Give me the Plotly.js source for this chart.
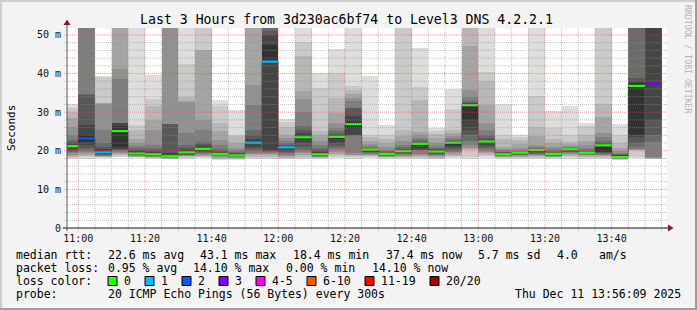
<!DOCTYPE html>
<html><head><meta charset="utf-8">
<script src="https://cdn.plot.ly/plotly-3.0.1.min.js"></script>
<style>html,body{margin:0;padding:0;background:#f3f3f3}</style>
</head><body><div id="chart" style="width:697px;height:310px"></div>
<script>
// ---- data ----
const day = '2025-12-11';
const barEnds = ['11:00','11:05','11:10','11:15','11:20','11:25','11:30','11:35','11:40','11:45','11:50','11:55',
                 '12:00','12:05','12:10','12:15','12:20','12:25','12:30','12:35','12:40','12:45','12:50','12:55',
                 '13:00','13:05','13:10','13:15','13:20','13:25','13:30','13:35','13:40','13:45','13:50','13:55'];
const medianMs = [21.2,23.2,19.6,25.1,19.3,19.1,18.6,19.6,20.5,19.2,18.8,22.1,
                  43.1,20.9,23.5,19.1,23.6,26.9,20.3,19.2,19.9,21.8,19.8,22.1,
                  31.8,22.4,19.1,19.5,20.2,19.2,20.4,19.5,21.4,18.4,36.8,37.4];
const lossCount = [0,2,1,0,0,0,0,0,0,0,0,1,
                   1,1,0,0,0,0,0,0,0,0,0,0,
                   0,0,0,0,0,0,0,0,0,0,0,3];
// 20 sorted ping RTTs (ms) per 5-minute step
const pings = [
 [17.8,18.1,18.4,18.7,19.0,19.3,19.6,20.0,20.5,21.0,21.4,21.8,22.2,22.8,24.1,26.2,28.5,30.1,31.2,32.1],
 [18.0,18.3,18.6,19.0,19.4,19.8,20.2,20.8,21.5,22.4,24.0,26.7,34.5,34.6,55.0,58.0,61.0,64.0,68.0,72.0],
 [18.2,18.3,18.4,18.5,18.6,18.7,18.8,18.9,19.1,19.3,20.0,20.5,21.0,22.0,25.4,32.2,32.3,32.4,39.2,39.3],
 [18.3,18.5,18.8,19.1,19.5,19.8,20.1,20.3,20.5,21.0,26.5,27.1,27.2,27.3,38.6,41.2,54.0,57.0,60.0,64.0],
 [18.1,18.3,18.4,18.5,18.6,18.7,18.8,18.9,19.0,19.2,19.6,19.9,20.2,20.6,21.2,22.0,23.0,25.4,26.7,56.0],
 [18.0,18.1,18.2,18.3,18.4,18.5,18.6,18.7,18.8,18.9,19.4,19.8,20.2,20.8,21.5,25.4,28.0,31.6,33.4,39.6],
 [17.8,17.9,18.0,18.05,18.1,18.2,18.3,18.4,18.5,18.6,19.0,19.5,26.9,26.95,27.0,55.0,58.0,61.0,64.0,67.0],
 [18.0,18.2,18.4,18.6,18.7,18.8,18.9,19.0,19.2,19.4,19.9,20.3,20.8,21.5,24.5,32.75,32.8,34.0,42.6,56.0],
 [18.1,18.3,18.5,18.7,18.9,19.1,19.3,19.6,19.9,20.2,20.8,21.2,21.8,22.4,25.4,28.0,46.1,46.2,55.0,58.0],
 [17.6,17.8,18.0,18.2,18.4,18.6,18.8,18.9,19.0,19.1,19.4,19.7,20.0,20.5,21.5,22.8,25.0,27.1,31.6,33.2],
 [17.7,17.9,18.0,18.1,18.2,18.3,18.4,18.5,18.6,18.7,19.0,19.2,19.5,19.8,20.2,20.8,21.9,23.9,24.1,30.6],
 [18.0,18.2,18.5,18.8,19.1,19.5,19.9,20.4,21.0,21.7,22.5,23.0,24.0,25.4,31.9,37.0,54.0,57.0,60.0,63.0],
 [18.0,18.2,18.5,18.8,19.1,19.4,19.7,20.0,20.3,42.9,47.5,50.0,51.0,55.0,58.0,61.0,64.0,67.0,70.0,74.0],
 [17.8,18.0,18.2,18.4,18.7,19.0,19.4,19.8,20.2,20.6,21.1,21.3,21.6,22.0,22.6,23.2,24.1,26.2,27.5,28.2],
 [18.0,18.2,18.5,18.9,19.3,19.8,20.3,21.0,22.0,23.0,23.9,24.5,25.5,26.4,30.0,33.3,35.4,44.6,48.3,56.0],
 [17.9,18.1,18.2,18.3,18.4,18.5,18.6,18.7,18.8,18.9,19.4,19.7,20.1,20.6,21.5,22.5,24.0,25.0,36.3,40.1],
 [18.1,18.4,18.8,19.2,19.6,20.1,20.6,21.2,22.0,23.0,23.8,24.0,24.4,25.0,26.0,27.1,29.7,33.7,40.1,46.4],
 [18.0,18.3,18.6,18.8,19.0,19.3,23.9,24.0,24.1,26.0,27.4,29.0,31.0,31.2,33.0,33.8,34.6,35.8,36.8,56.0],
 [18.1,18.3,18.6,18.8,19.0,19.2,19.4,19.6,19.8,20.0,20.3,20.4,20.6,20.8,21.2,21.8,22.5,23.5,24.1,39.4],
 [17.9,18.1,18.3,18.4,18.5,18.6,18.7,18.8,18.9,19.0,19.3,19.4,19.6,19.9,20.3,21.0,22.0,23.0,24.1,26.7],
 [17.9,18.1,18.3,18.5,18.7,18.9,19.1,19.3,19.5,19.7,20.0,20.2,20.5,20.9,21.5,22.5,23.8,25.4,55.0,59.0],
 [18.0,18.2,18.5,18.7,19.0,19.2,20.25,20.3,20.4,21.3,21.9,22.1,22.4,22.8,23.3,24.0,24.9,33.2,36.6,46.6],
 [17.8,18.0,18.2,18.4,18.6,18.8,19.0,19.2,19.4,19.6,20.0,20.2,20.4,20.8,21.2,22.0,23.3,24.3,25.0,25.8],
 [18.1,18.4,18.7,19.0,19.3,19.6,20.0,20.5,21.0,21.5,22.2,22.4,22.6,22.9,23.3,23.8,24.5,25.4,30.7,36.1],
 [18.0,18.5,20.2,20.5,20.8,21.5,22.5,24.0,25.4,28.0,32.1,32.3,32.5,33.0,34.0,35.8,47.1,55.0,58.0,62.0],
 [18.2,18.6,19.0,19.4,19.7,20.0,20.5,21.0,21.5,22.0,22.6,22.8,23.2,24.0,25.5,27.1,31.9,38.0,40.4,56.0],
 [18.0,18.2,18.3,18.4,18.5,18.6,18.7,18.8,18.9,19.0,19.4,19.5,19.6,19.8,20.1,20.5,21.1,23.0,24.1,32.2],
 [17.9,18.1,18.3,18.5,18.7,18.9,19.0,19.1,19.2,19.3,19.6,19.7,19.8,20.0,20.3,20.8,21.7,22.7,23.5,24.1],
 [18.0,18.2,18.4,18.6,18.8,19.0,19.2,19.4,19.6,19.9,20.3,20.4,20.5,20.7,21.0,21.5,23.7,26.2,34.1,57.0],
 [17.9,18.1,18.3,18.4,18.5,18.6,18.7,18.8,18.9,19.0,19.3,19.5,19.7,20.0,20.4,21.0,22.0,23.0,26.0,30.4],
 [18.0,18.3,18.6,18.9,19.2,19.4,19.6,19.8,20.0,20.2,20.5,20.6,20.7,20.8,21.0,21.3,21.8,22.4,24.1,31.6],
 [18.0,18.2,18.5,18.7,18.9,19.0,19.1,19.2,19.3,19.4,19.7,19.8,20.0,20.3,20.8,21.5,22.5,24.1,26.5,27.3],
 [18.0,18.2,18.4,18.6,18.8,19.0,19.2,19.4,19.6,19.8,21.6,21.8,22.0,22.5,23.5,24.5,28.8,32.0,55.0,60.0],
 [17.6,17.7,17.8,17.9,18.0,18.1,18.2,18.3,18.4,18.5,18.8,18.9,19.0,19.2,19.5,20.0,20.8,22.0,24.1,26.9],
 [18.2,18.5,20.1,20.2,20.3,20.5,21.0,22.0,23.5,24.1,37.5,38.2,38.9,55.0,58.0,61.0,64.0,67.0,70.0,73.0],
 [17.8,17.9,18.0,18.1,18.2,18.3,22.4,24.1,28.0,37.0,37.8,55.0,58.0,61.0,64.0,67.0,70.0,73.0,76.0,80.0]
];
const yTickVals = [0,10,20,30,40,50];
const yTickText = ['0','10 m','20 m','30 m','40 m','50 m'];
const xTickText = ['11:00','11:20','11:40','12:00','12:20','12:40','13:00','13:20','13:40'];
const lossLabels = ['0','1','2','3','4-5','6-10','11-19','20/20'];
const lossColors = ['#26ff00','#00b8ff','#0059ff','#7e00ff','#ff00ff','#ff5500','#ff0000','#a10000'];
const smokeShades = ['#dddddd','#cacaca','#b7b7b7','#a4a4a4','#919191','#7e7e7e','#6b6b6b','#585858','#454545','#323232'];

// ---- helpers ----
const MONO = 'DejaVu Sans Mono';
function ts(hm){ return day + ' ' + hm + ':00'; }
function minusFive(hm){
  let [h,m] = hm.split(':').map(Number); let t = h*60+m-5;
  return String(Math.floor(t/60)).padStart(2,'0') + ':' + String(t%60).padStart(2,'0');
}
function lossIdx(n){ if(n<=3) return n; if(n<=5) return 4; if(n<=10) return 5; if(n<=19) return 6; return 7; }
const px2x = p => (p - 67) / 600;
const px2y = p => (228 - p) / 200;

const xEnd = barEnds.map(ts);
const xStart = barEnds.map(t => ts(minusFive(t)));

const traces = [];
for (let i = 0; i < 10; i++) {
  const lo = pings.map(r => r[i]);
  const hi = pings.map(r => r[19 - i]);
  traces.push({type:'bar', x:xEnd, base:lo, y:hi.map((h,k)=>h-lo[k]),
    width:300000, offset:-300000, marker:{color:smokeShades[i], line:{width:0}},
    hoverinfo:'skip', showlegend:false});
}
traces.push({type:'scatter', mode:'lines', x:xStart.concat([xEnd[xEnd.length-1]]),
  y:medianMs.concat([medianMs[medianMs.length-1]]), line:{shape:'hv', color:'#202020', width:1, dash:'1px,1px'},
  hoverinfo:'skip', showlegend:false});
for (let c = 0; c < lossColors.length; c++) {
  const xx = [], yy = [];
  medianMs.forEach((m,k) => { if (lossIdx(lossCount[k]) === c) { xx.push(xStart[k], xEnd[k], null); yy.push(m, m, null); } });
  if (xx.length) traces.push({type:'scatter', mode:'lines', x:xx, y:yy, line:{color:lossColors[c], width:2.2},
    hoverinfo:'skip', showlegend:false, connectgaps:false});
}

// ---- grid (drawn above, like rrdtool) ----
const MINOR = 'rgba(143,143,143,0.55)', MAJOR = 'rgba(222,79,79,0.5)';
const shapes = [];
for (let v = 2; v <= 50; v += 2) {
  const major = v % 10 === 0;
  shapes.push({type:'line', layer:'above', xref:'paper', yref:'y', x0:px2x(64), x1:px2x(668), y0:v, y1:v,
    line:{color: major ? MAJOR : MINOR, width:1, dash:'1px,1px'}});
}
barEnds.forEach(t => {
  const major = Number(t.split(':')[1]) % 20 === 0;
  shapes.push({type:'line', layer:'above', xref:'x', yref:'paper', x0:ts(t), x1:ts(t), y0:px2y(231), y1:1,
    line:{color: major ? MAJOR : MINOR, width:1, dash:'1px,1px'}});
});
shapes.push({type:'line', layer:'above', xref:'paper', yref:'paper', x0:px2x(63), x1:px2x(669), y0:0, y1:0, line:{color:'#111', width:1}});
shapes.push({type:'line', layer:'above', xref:'paper', yref:'paper', x0:0, x1:0, y0:px2y(231), y1:px2y(24), line:{color:'#555', width:1}});
shapes.push({type:'path', layer:'above', xref:'paper', yref:'paper',
  path:`M ${px2x(63.5)} ${px2y(25)} L ${px2x(70.5)} ${px2y(25)} L ${px2x(67)} ${px2y(19.5)} Z`, fillcolor:'#8b1a1a', line:{width:0}});
shapes.push({type:'path', layer:'above', xref:'paper', yref:'paper',
  path:`M ${px2x(668)} ${px2y(224.5)} L ${px2x(668)} ${px2y(231.5)} L ${px2x(673.5)} ${px2y(228)} Z`, fillcolor:'#8b1a1a', line:{width:0}});
const frame = [[0,0,697,2,'#cfcfcf'],[0,0,2,310,'#cfcfcf'],[0,308,697,310,'#9e9e9e'],[695,0,697,310,'#9e9e9e']];
frame.forEach(f => shapes.push({type:'rect', layer:'above', xref:'paper', yref:'paper',
  x0:px2x(f[0]), x1:px2x(f[2]), y0:px2y(f[3]), y1:px2y(f[1]), fillcolor:f[4], line:{width:0}}));

// ---- legend / text ----
const ann = [];
function txt(s, px, py, anchor, size, color){
  ann.push({text:s, xref:'paper', yref:'paper', x:px2x(px), y:px2y(py), xanchor:anchor||'left', yanchor:'middle',
    showarrow:false, borderpad:0, borderwidth:0, font:{family:MONO, size:size||11.5, color:color||'#000'}});
}
txt('median rtt:', 16, 255); txt('22.6 ms avg', 107.6, 255); txt('43.1 ms max', 200.3, 255);
txt('18.4 ms min', 293, 255); txt('37.4 ms now', 385.7, 255); txt('5.7 ms sd', 478.4, 255);
txt('4.0', 557.1, 255); txt('am/s', 599, 255);
txt('packet loss:', 16, 268); txt('0.95 % avg', 107.6, 268); txt('14.10 % max', 193.3, 268);
txt('0.00 % min', 286, 268); txt('14.10 % now', 371.7, 268);
txt('loss color:', 16, 281);
const boxLeft = [108,145,182,219,256,307,365,430];
lossLabels.forEach((l,i) => {
  shapes.push({type:'rect', layer:'above', xref:'paper', yref:'paper', x0:px2x(boxLeft[i]), x1:px2x(boxLeft[i]+9),
    y0:px2y(285.5), y1:px2y(276.5), fillcolor:lossColors[i], line:{color:'#000', width:1}});
  txt(l, boxLeft[i]+16, 281);
});
txt('probe:', 16, 294); txt('20 ICMP Echo Pings (56 Bytes) every 300s', 107.6, 294);
txt('Thu Dec 11 13:56:09 2025', 681, 294, 'right');
ann.push({text:'Seconds', xref:'paper', yref:'paper', x:px2x(11), y:0.5, xanchor:'center', yanchor:'middle',
  textangle:-90, showarrow:false, font:{family:MONO, size:11, color:'#000'}});
ann.push({text:'RRDTOOL / TOBI OETIKER', xref:'paper', yref:'paper', x:px2x(688), y:px2y(59), xanchor:'center', yanchor:'middle',
  textangle:90, showarrow:false, font:{family:MONO, size:8.2, color:'#b4b4b4'}});

const layout = {
  width:697, height:310, margin:{l:67, r:30, t:28, b:82, pad:0},
  paper_bgcolor:'#f3f3f3', plot_bgcolor:'#ffffff', barmode:'overlay', bargap:0, showlegend:false,
  title:{text:'Last 3 Hours from 3d230ac6bf74 to Level3 DNS 4.2.2.1', xref:'container', yref:'container',
    x:346.5/697, xanchor:'center', y:1-19/310, yanchor:'middle', font:{family:MONO, size:13.2, color:'#000'}},
  xaxis:{type:'date', range:[day+' 10:56:37', day+' 13:56:37'], tickvals:xTickText.map(ts), ticktext:xTickText,
    showgrid:false, zeroline:false, showline:false, ticks:'', ticklabelstandoff:3,
    tickfont:{family:MONO, size:10, color:'#111'}, fixedrange:true},
  yaxis:{range:[0,51.8], tickvals:yTickVals, ticktext:yTickText, showgrid:false, zeroline:false, showline:false,
    ticks:'', ticklabelstandoff:5, tickfont:{family:MONO, size:10, color:'#111'}, fixedrange:true},
  shapes:shapes, annotations:ann
};
Plotly.newPlot('chart', traces, layout, {displayModeBar:false, staticPlot:true});
</script></body></html>
